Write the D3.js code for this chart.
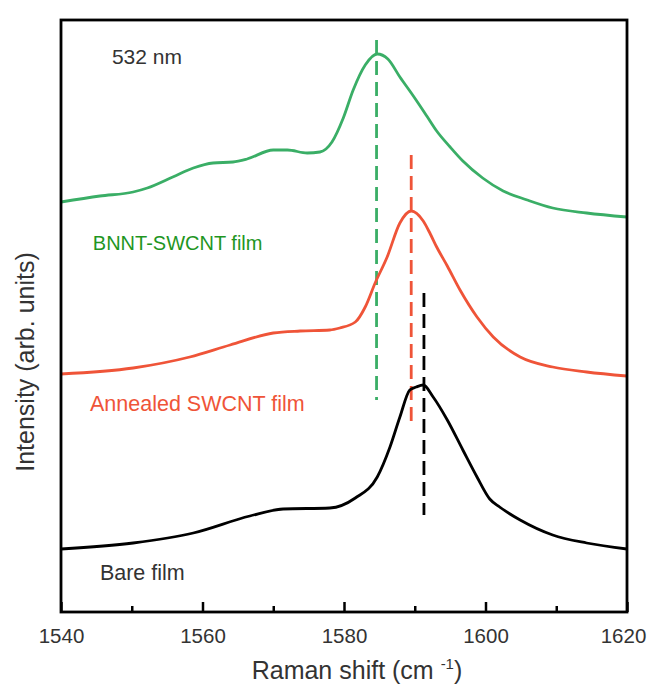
<!DOCTYPE html>
<html>
<head>
<meta charset="utf-8">
<script src="https://cdn.jsdelivr.net/npm/d3@7"></script>
<style>
  body { margin: 0; background: #fff; }
  text { font-family: "Liberation Sans", Arial, sans-serif; }
</style>
</head>
<body>
<div id="chart"></div>
<script>
// Raman shift (cm-1) / intensity (arb. units, offset stacked)
var bnntShift = [1540, 1545.5, 1550.2, 1552.2, 1555.8, 1558.7, 1561.5, 1564.3, 1566.3, 1570.0, 1572.0, 1574.8, 1576.6, 1578.3, 1579.9, 1581.3, 1583.0, 1584.7, 1586.2, 1587.9, 1589.8, 1591.7, 1593.1, 1595.0, 1596.8, 1599.6, 1602.5, 1605.9, 1609.5, 1614.3, 1620];
var bnntInt = [410, 416, 420, 424, 435, 444, 449, 450, 453, 462, 462, 459, 460, 470, 494, 522, 547, 558, 553, 535, 516, 496, 481, 465, 451, 434, 421, 412, 404, 399, 395];

var annShift = [1540, 1550.2, 1558.2, 1563.9, 1570.0, 1573.8, 1578.0, 1579.4, 1581.6, 1583.0, 1584.4, 1586.1, 1587.9, 1589.5, 1591.2, 1592.2, 1593.1, 1594.6, 1596.4, 1598.8, 1601.1, 1604.9, 1609.5, 1614.3, 1620];
var annInt = [238, 244, 255, 267, 279, 281, 282, 284, 290, 305, 329, 355, 389, 401, 391, 378, 365, 346, 322, 295, 275, 255, 245, 240, 236];

var bareShift = [1540, 1550.2, 1558.7, 1566.7, 1571.4, 1578.0, 1581.6, 1584.7, 1586.5, 1587.9, 1589.3, 1590.2, 1591.2, 1592.6, 1594.6, 1596.8, 1598.8, 1600.6, 1602.0, 1604.9, 1609.5, 1614.3, 1620];
var bareInt = [63, 69, 79, 96, 103, 104, 114, 135, 165, 195, 222, 225, 227, 215, 192, 162, 135, 113, 105, 92, 77, 69, 63];

// peak markers (dashed)
var peakPos = [1584.6, 1589.5, 1591.3];
var peakTop = [572, 457, 319];
var peakBottom = [212, 187, 97];

var seriesNames = ["BNNT-SWCNT film", "Annealed SWCNT film", "Bare film"];
var seriesColors = ["#3aae66", "#ef5438", "#000000"];
var labelColors = ["#1f961f", "#ef5438", "#333333"];

var xTicks = [1540, 1560, 1580, 1600, 1620];
var xMinorTicks = [1550, 1570, 1590, 1610];

var W = 648, H = 686;
var margin = { top: 20, right: 21, bottom: 74, left: 61 };

var svg = d3.select("#chart").append("svg")
  .attr("width", W).attr("height", H);

var x = d3.scaleLinear().domain([1540, 1620]).range([margin.left, W - margin.right]);
var y = d3.scaleLinear().domain([0, 592]).range([H - margin.bottom, margin.top]);

var series = [
  { shift: bnntShift, val: bnntInt },
  { shift: annShift, val: annInt },
  { shift: bareShift, val: bareInt }
];

var line = d3.line()
  .curve(d3.curveMonotoneX)
  .x(function (d) { return x(d[0]); })
  .y(function (d) { return y(d[1]); });

// dashed peak markers under the curves
svg.append("g").selectAll("line")
  .data(peakPos)
  .enter()
  .append("line")
  .attr("x1", function (d) { return x(d); })
  .attr("x2", function (d) { return x(d); })
  .attr("y1", function (d, i) { return y(peakTop[i]); })
  .attr("y2", function (d, i) { return y(peakBottom[i]); })
  .attr("stroke", function (d, i) { return seriesColors[i]; })
  .attr("stroke-width", 2.8)
  .attr("stroke-dasharray", "14,7");

svg.append("g").selectAll("path")
  .data(series)
  .enter()
  .append("path")
  .attr("d", function (s) { return line(d3.zip(s.shift, s.val)); })
  .attr("fill", "none")
  .attr("stroke", function (d, i) { return seriesColors[i]; })
  .attr("stroke-width", 2.8)
  .attr("stroke-linejoin", "round");

// frame
svg.append("rect")
  .attr("x", x(1540)).attr("y", y(592))
  .attr("width", x(1620) - x(1540))
  .attr("height", y(0) - y(592))
  .attr("fill", "none")
  .attr("stroke", "#000")
  .attr("stroke-width", 2.8);

// bottom axis, ticks pointing inward
var xAxis = d3.axisBottom(x).tickValues(xTicks).tickSizeInner(-10).tickSizeOuter(0)
  .tickPadding(16).tickFormat(d3.format("d"));
var gx = svg.append("g")
  .attr("transform", "translate(0," + y(0) + ")")
  .call(xAxis);
gx.select(".domain").remove();
gx.selectAll(".tick line").attr("stroke-width", 2.5);
gx.selectAll(".tick text")
  .attr("font-size", 20.5)
  .attr("font-family", "Liberation Sans, Arial, sans-serif")
  .attr("fill", "#333")
  .attr("dx", function (d) { return d === 1620 ? -4 : 0; });

var gm = svg.append("g")
  .attr("transform", "translate(0," + y(0) + ")")
  .call(d3.axisBottom(x).tickValues(xMinorTicks).tickSizeInner(-6).tickSizeOuter(0).tickFormat(""));
gm.select(".domain").remove();
gm.selectAll(".tick line").attr("stroke-width", 2.5);

// annotations
svg.append("text")
  .attr("x", x(1547.2)).attr("y", y(548))
  .attr("font-size", 21).attr("fill", "#333")
  .text("532 nm");

var labelPos = [[1544.5, 362], [1544.1, 201], [1545.5, 32]];
svg.append("g").selectAll("text")
  .data(seriesNames)
  .enter()
  .append("text")
  .attr("x", function (d, i) { return x(labelPos[i][0]); })
  .attr("y", function (d, i) { return y(labelPos[i][1]); })
  .attr("font-size", function (d, i) { return i === 0 ? 20 : 21.5; })
  .attr("fill", function (d, i) { return labelColors[i]; })
  .text(function (d) { return d; });

// axis titles
var xt = svg.append("text")
  .attr("x", 357).attr("y", 679)
  .attr("text-anchor", "middle")
  .attr("font-size", 25).attr("fill", "#333");
xt.append("tspan").text("Raman shift (cm ");
xt.append("tspan").attr("font-size", 15).attr("dy", -10).text("-1");
xt.append("tspan").attr("dy", 10).text(")");

svg.append("text")
  .attr("transform", "translate(34,362) rotate(-90)")
  .attr("text-anchor", "middle")
  .attr("font-size", 25).attr("fill", "#333")
  .text("Intensity (arb. units)");
</script>
</body>
</html>
